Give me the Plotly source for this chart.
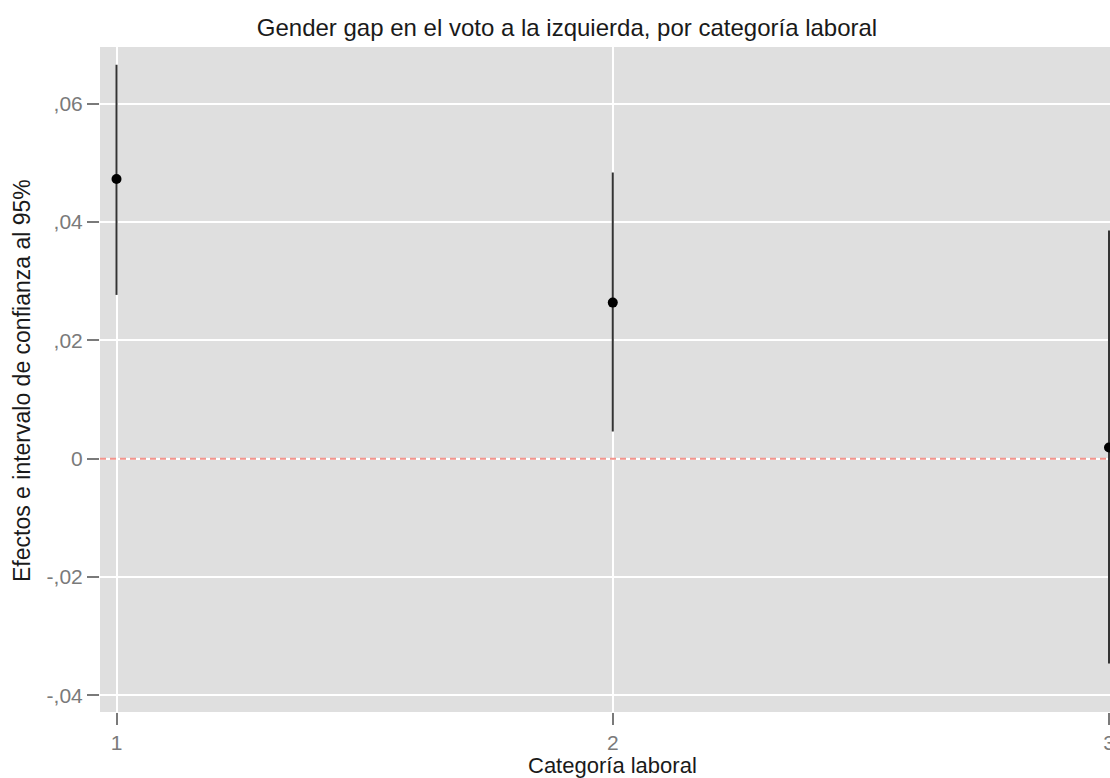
import plotly.graph_objects as go

# Estimated gender gap in left vote, by labour category, with 95% CIs
categories = [1, 2, 3]
effects = [0.0473, 0.0264, 0.0019]
ci_low = [0.0277, 0.0046, -0.0346]
ci_high = [0.0666, 0.0484, 0.0386]

y_ticks = [-0.04, -0.02, 0, 0.02, 0.04, 0.06]
y_tick_labels = ["-,04", "-,02", "0", ",02", ",04", ",06"]
x_ticks = [1, 2, 3]
x_tick_labels = ["1", "2", "3"]

W, H = 1110, 778
ML, MR, MT, MB = 100, 0, 47, 66

fig = go.Figure()

fig.add_trace(go.Scatter(
    x=categories,
    y=effects,
    mode="markers",
    marker=dict(color="black", size=10),
    error_y=dict(
        type="data",
        symmetric=False,
        array=[h - e for h, e in zip(ci_high, effects)],
        arrayminus=[e - l for e, l in zip(effects, ci_low)],
        color="#333333",
        thickness=2,
        width=0,
    ),
    showlegend=False,
))

# reference line at zero
fig.add_shape(
    type="line", xref="paper", yref="y",
    x0=0, x1=1, y0=0, y1=0,
    line=dict(color="#f4948c", width=2, dash="6px,4px"),
    layer="above",
)

tick_font = dict(family="Liberation Sans, Arial, sans-serif", size=21, color="#7a7a7a")

fig.update_layout(
    width=W, height=H,
    margin=dict(l=ML, r=MR, t=MT, b=MB),
    paper_bgcolor="white",
    plot_bgcolor="#dfdfdf",
    font=dict(family="Liberation Sans, Arial, sans-serif", color="#1a1a1a"),
    title=dict(
        text="Gender gap en el voto a la izquierda, por categoría laboral",
        x=567 / W, xanchor="center",
        y=1 - 28 / H, yanchor="middle",
        xref="container", yref="container",
        font=dict(size=24, color="#1a1a1a"),
    ),
    xaxis=dict(
        range=[0.9667, 3.002],
        tickvals=x_ticks, ticktext=x_tick_labels,
        showgrid=True, gridcolor="white", gridwidth=2,
        zeroline=False,
        ticks="outside", ticklen=12, tickwidth=2, tickcolor="#7a7a7a",
        tickfont=tick_font,
        ticklabeloverflow="allow",
        automargin=False,
        showline=False,
    ),
    yaxis=dict(
        range=[-0.0428, 0.0696],
        tickvals=y_ticks, ticktext=y_tick_labels,
        showgrid=True, gridcolor="white", gridwidth=2,
        zeroline=False,
        ticks="outside", ticklen=12, tickwidth=2, tickcolor="#7a7a7a",
        tickfont=tick_font,
        automargin=False,
        showline=False,
    ),
    annotations=[
        dict(
            text="Efectos e intervalo de confianza al 95%",
            xref="paper", yref="paper",
            x=(22 - ML) / (W - ML - MR), y=1 - (381 - MT) / (H - MT - MB),
            xanchor="center", yanchor="middle",
            textangle=-90, showarrow=False,
            font=dict(size=23, color="#1a1a1a"),
        ),
        dict(
            text="Categoría laboral",
            xref="x", yref="paper",
            x=2, y=1 - (765 - MT) / (H - MT - MB),
            xanchor="center", yanchor="middle",
            showarrow=False,
            font=dict(size=22, color="#1a1a1a"),
        ),
    ],
)

fig.write_html("out.html")
